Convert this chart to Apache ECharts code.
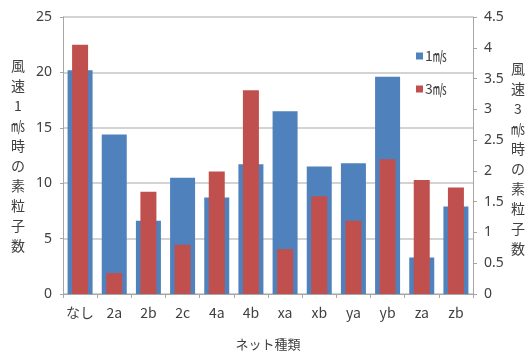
<!DOCTYPE html>
<html>
<head>
<meta charset="utf-8">
<script src="https://cdn.jsdelivr.net/npm/echarts@6/dist/echarts.min.js"></script>
<style>
  html, body { margin: 0; padding: 0; background: #fff; }
  #chart { width: 529px; height: 354px; }
</style>
</head>
<body>
<div id="chart"></div>
<script>
// Net types on the category axis
const categories = ['なし', '2a', '2b', '2c', '4a', '4b', 'xa', 'xb', 'ya', 'yb', 'za', 'zb'];
// Particle counts at wind speed 1 m/s (left axis)
const wind1 = [20.2, 14.4, 6.6, 10.5, 8.7, 11.7, 16.5, 11.5, 11.8, 19.6, 3.3, 7.9];
// Particle counts at wind speed 3 m/s (right axis)
const wind3 = [4.05, 0.34, 1.66, 0.8, 1.99, 3.31, 0.73, 1.59, 1.19, 2.19, 1.85, 1.73];

const seriesNames = ['1㎧', '3㎧'];
const leftTitle = '風速1㎧時の素粒子数';
const rightTitle = '風速3㎧時の素粒子数';
const xTitle = 'ネット種類';

const textColor = '#404040';
const gridColor = '#c4c4c4';
const axisColor = '#a6a6a6';
const cjk = '"Noto Sans CJK JP", "Noto Sans", sans-serif';
const num = '"Noto Sans", "Noto Sans CJK JP", sans-serif';

// Axis titles written top-to-bottom, one character per line
const verticalTitle = (text, x, y, lineHeight) => ({
  type: 'text',
  x: x,
  y: y,
  silent: true,
  style: {
    text: Array.from(text).join('\n'),
    fill: textColor,
    font: '14px ' + cjk,
    lineHeight: lineHeight,
    align: 'center',
    verticalAlign: 'middle'
  }
});

const chart = echarts.init(document.getElementById('chart'), null, { renderer: 'canvas' });
chart.setOption({
  animation: false,
  backgroundColor: '#ffffff',
  grid: { left: 63, right: 56, top: 17, bottom: 60, containLabel: false, outerBoundsMode: 'none' },
  legend: {
    orient: 'vertical',
    left: 411,
    top: 44,
    itemWidth: 7,
    itemHeight: 7,
    itemGap: 19,
    icon: 'rect',
    textStyle: { color: textColor, fontSize: 14, fontFamily: cjk, padding: [0, 0, 0, -3] },
    data: seriesNames
  },
  graphic: [
    verticalTitle(leftTitle, 18, 156, 20),
    verticalTitle(rightTitle, 518, 159, 20)
  ],
  xAxis: [
    {
      type: 'category',
      data: categories,
      name: xTitle,
      nameLocation: 'middle',
      nameGap: 44,
      nameTextStyle: { color: textColor, fontSize: 13, fontFamily: cjk },
      axisLine: { lineStyle: { color: axisColor, width: 1 } },
      axisTick: { show: true, length: 4, lineStyle: { color: axisColor } },
      axisLabel: { interval: 0, color: textColor, fontSize: 14, fontFamily: cjk, margin: 12 }
    },
    {
      type: 'category',
      data: categories,
      show: false
    }
  ],
  yAxis: [
    {
      type: 'value',
      min: 0,
      max: 25,
      interval: 5,
      position: 'left',
      axisLine: { show: true, lineStyle: { color: axisColor, width: 1 } },
      axisTick: { show: true, length: 3, lineStyle: { color: axisColor } },
      axisLabel: { color: textColor, fontSize: 14, fontFamily: num, margin: 11 },
      splitLine: { show: true, lineStyle: { color: gridColor, width: 1.5 } }
    },
    {
      type: 'value',
      min: 0,
      max: 4.5,
      interval: 0.5,
      position: 'right',
      axisLine: { show: true, lineStyle: { color: axisColor, width: 1 } },
      axisTick: { show: true, length: 4, lineStyle: { color: axisColor } },
      axisLabel: { color: textColor, fontSize: 14, fontFamily: num, margin: 11 },
      splitLine: { show: false }
    }
  ],
  series: [
    {
      name: seriesNames[0],
      type: 'bar',
      xAxisIndex: 0,
      yAxisIndex: 0,
      barWidth: 25,
      itemStyle: { color: '#4f81bd' },
      data: wind1
    },
    {
      name: seriesNames[1],
      type: 'bar',
      xAxisIndex: 1,
      yAxisIndex: 1,
      barWidth: 16,
      itemStyle: { color: '#c0504d' },
      data: wind3
    }
  ]
});
</script>
</body>
</html>
